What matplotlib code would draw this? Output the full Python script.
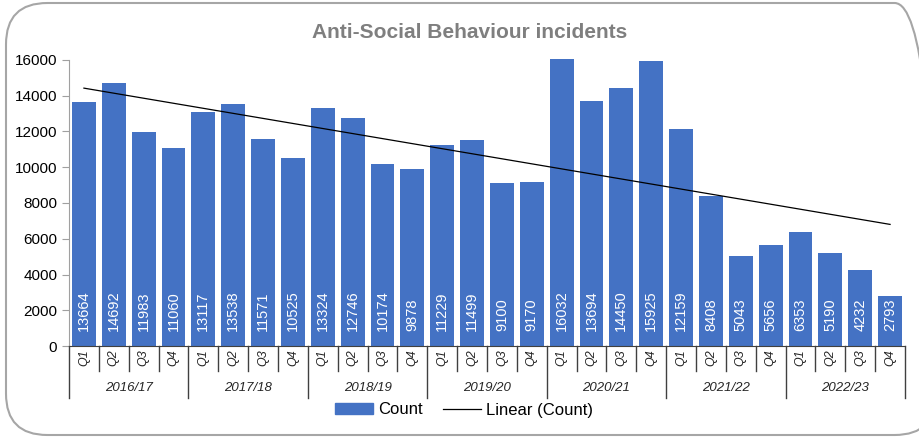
import matplotlib.pyplot as plt
from matplotlib.patches import FancyBboxPatch, Patch
from matplotlib.lines import Line2D
import matplotlib.transforms as mtransforms
import numpy as np

plt.rcParams['font.family'] = ['Liberation Sans', 'DejaVu Sans']

years = ['2016/17', '2017/18', '2018/19', '2019/20', '2020/21', '2021/22', '2022/23']
quarters = ['Q1', 'Q2', 'Q3', 'Q4']
counts = [13664, 14692, 11983, 11060,
          13117, 13538, 11571, 10525,
          13324, 12746, 10174, 9878,
          11229, 11499, 9100, 9170,
          16032, 13694, 14450, 15925,
          12159, 8408, 5043, 5656,
          6353, 5190, 4232, 2793]

blue = '#4472C4'
x = np.arange(len(counts))

fig = plt.figure(figsize=(9.19, 4.38), dpi=100)
# rounded chart border (right side runs off the picture)
border = FancyBboxPatch((6 / 919, 3 / 438), 930 / 919, 432 / 438,
                        boxstyle='round,pad=0,rounding_size=0.045',
                        transform=fig.transFigure, fill=False,
                        edgecolor='#a6a6a6', linewidth=1.5, mutation_aspect=919 / 438)
fig.patches.append(border)

ax = fig.add_axes([69 / 919, 92 / 438, 836 / 919, 286 / 438])
bars = ax.bar(x, counts, width=0.8, color=blue, clip_on=False, zorder=2)

# linear trend line (least squares, like Excel)
k, b = np.polyfit(x, counts, 1)
ax.plot(x, k * x + b, color='black', linewidth=0.9, zorder=3)

for xi, v in zip(x, counts):
    ax.annotate(str(v), (xi, 0), xytext=(0, 11), textcoords='offset points',
                rotation=90, ha='center', va='bottom', color='white', fontsize=10.5, zorder=4)

ax.set_xlim(-0.5, len(counts) - 0.5)
ax.set_ylim(0, 16000)
ax.set_yticks(np.arange(0, 16001, 2000))
ax.tick_params(axis='y', labelsize=11, colors='#a0a0a0', labelcolor='black', length=5)
ax.set_xticks([])
for s in ['top', 'right']:
    ax.spines[s].set_visible(False)
ax.spines['left'].set_color('#a0a0a0')
ax.spines['bottom'].set_color('#404040')

# two-level category axis
trans = mtransforms.blended_transform_factory(ax.transData, ax.transAxes)
px = 1 / 286
for i in range(len(counts) + 1):
    depth = 52 if i % 4 == 0 else 25
    ax.plot([i - 0.5, i - 0.5], [0, -depth * px], transform=trans, color='#404040',
            linewidth=1, clip_on=False)
for i in x:
    ax.text(i, -12 * px, quarters[i % 4], transform=trans, rotation=90, ha='center',
            va='center', fontsize=9, style='italic', color='#262626')
for j, yr in enumerate(years):
    ax.text(j * 4 + 1.5, -42 * px, yr, transform=trans, ha='center', va='center',
            fontsize=9.5, style='italic', color='#262626')

fig.text(0.511, 1 - 33 / 438, 'Anti-Social Behaviour incidents', ha='center', va='center',
         fontsize=15, fontweight='bold', color='#7f7f7f')

handles = [Patch(color=blue, label='Count'),
           Line2D([0], [0], color='black', linewidth=0.9, label='Linear (Count)')]
fig.legend(handles=handles, loc='center', bbox_to_anchor=(0.505, 1 - 410 / 438), ncol=2,
           frameon=False, fontsize=12, handlelength=2.3, handleheight=0.6,
           columnspacing=1.2, handletextpad=0.3)

fig.savefig('out.png', dpi=100)
